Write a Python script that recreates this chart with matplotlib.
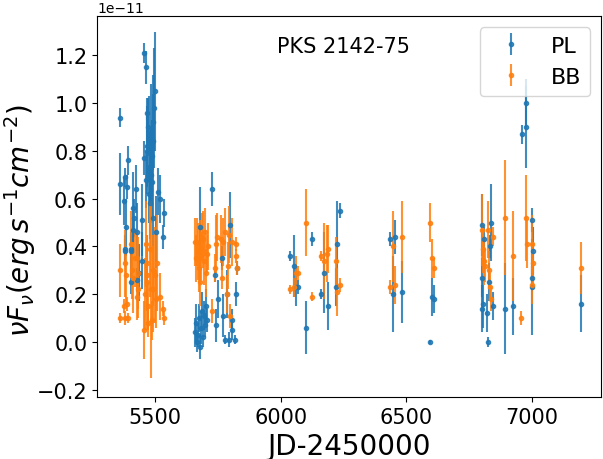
import numpy as np
import matplotlib
matplotlib.use("Agg")
import matplotlib.pyplot as plt

# ---- data (flux in units of 1e-11 erg s^-1 cm^-2) ----
pl_jd = [5361, 5456, 5464, 5500, 5468, 5361, 5381, 5389, 5393, 5425, 5456, 5468,
         5464, 5476, 5377, 5413, 5417, 5385, 5413, 5429, 5381, 5381, 5405, 5405,
         5448, 5492, 5504, 5512, 5520, 5536, 5532, 5448, 5405, 5429, 5436,
         5470, 5478, 5482, 5486, 5490, 5494, 5497, 5485, 5488, 5474, 5492, 5480,
         5726, 5679, 5798, 5766, 5738, 5825, 5786, 5821, 5750, 5770, 5806, 5806,
         5817, 5778, 5794, 5742, 5659, 5687, 5706, 5665, 5671, 5675, 5683, 5691,
         5695, 5699, 5703, 5667, 5679,
         6036, 6052, 6060, 6071, 6099, 6123, 6159, 6171, 6187, 6226, 6238, 6222,
         6437, 6456, 6448, 6484, 6595, 6603, 6611,
         6802, 6810, 6802, 6802, 6806, 6825, 6821, 6829, 6837, 6833, 6845, 6893,
         6925, 6960, 6976, 6976, 7000, 7004, 7000, 7000, 7194]
pl_flux = [0.94, 1.21, 1.15, 1.05, 0.96, 0.66, 0.69, 0.65, 0.76, 0.64, 0.77, 0.80,
           0.68, 0.62, 0.59, 0.56, 0.52, 0.48, 0.47, 0.46, 0.39, 0.38, 0.38, 0.39,
           0.51, 0.52, 0.46, 0.63, 0.60, 0.54, 0.44, 0.34, 0.25, 0.26, 0.29,
           0.82, 0.85, 0.72, 0.88, 0.78, 0.92, 0.98, 0.70, 0.67, 0.90, 0.84, 0.58,
           0.64, 0.48, 0.49, 0.35, 0.28, 0.31, 0.20, 0.20, 0.18, 0.11, 0.09, 0.05,
           0.01, 0.01, 0.01, 0.07, 0.04, 0.13, 0.09, 0.08, 0.03, 0.10, 0.06, 0.02,
           0.11, 0.07, 0.15, 0.00, -0.02,
           0.36, 0.32, 0.23, 0.23, 0.06, 0.43, 0.20, 0.29, 0.15, 0.41, 0.55, 0.23,
           0.43, 0.44, 0.20, 0.21, 0.00, 0.19, 0.18,
           0.49, 0.43, 0.27, 0.14, 0.16, 0.00, 0.12, 0.25, 0.50, 0.40, 0.15, 0.14,
           0.15, 0.87, 0.90, 1.00, 0.51, 0.38, 0.27, 0.23, 0.16]
pl_err = [0.04, 0.04, 0.07, 0.25, 0.03, 0.13, 0.04, 0.05, 0.06, 0.10, 0.07, 0.15,
          0.12, 0.12, 0.10, 0.15, 0.08, 0.12, 0.10, 0.12, 0.06, 0.05, 0.08, 0.06,
          0.15, 0.12, 0.15, 0.10, 0.10, 0.06, 0.05, 0.12, 0.05, 0.05, 0.12,
          0.20, 0.18, 0.15, 0.20, 0.15, 0.20, 0.25, 0.20, 0.15, 0.12, 0.20, 0.15,
          0.07, 0.17, 0.14, 0.05, 0.03, 0.03, 0.10, 0.05, 0.08, 0.09, 0.05, 0.04,
          0.02, 0.02, 0.03, 0.07, 0.06, 0.08, 0.05, 0.08, 0.05, 0.06, 0.07, 0.04,
          0.06, 0.05, 0.07, 0.04, 0.05,
          0.02, 0.13, 0.08, 0.03, 0.11, 0.03, 0.02, 0.17, 0.10, 0.18, 0.03, 0.08,
          0.03, 0.07, 0.16, 0.13, 0.01, 0.08, 0.06,
          0.13, 0.05, 0.08, 0.10, 0.10, 0.02, 0.08, 0.08, 0.16, 0.05, 0.06, 0.19,
          0.12, 0.04, 0.17, 0.10, 0.05, 0.10, 0.05, 0.20, 0.12]

bb_jd = [5361, 5361, 5377, 5381, 5389, 5393, 5381, 5385, 5405, 5409, 5413, 5421,
         5429, 5429, 5433, 5433, 5456, 5460, 5464, 5468, 5472, 5472, 5468, 5480,
         5484, 5492, 5492, 5500, 5504, 5508, 5520, 5532, 5536, 5488, 5468,
         5659, 5667, 5679, 5687, 5691, 5699, 5679, 5710, 5726, 5746, 5742, 5738,
         5770, 5778, 5766, 5790, 5794, 5806, 5821, 5821, 5825, 5798, 5663, 5671,
         5675, 5683, 5695, 5703, 5706, 5762, 5786,
         6036, 6052, 6060, 6071, 6099, 6123, 6159, 6171, 6183, 6187, 6222, 6226, 6238,
         6437, 6448, 6456, 6484, 6595, 6603, 6611,
         6802, 6806, 6810, 6814, 6825, 6829, 6833, 6837, 6845, 6893, 6925, 6956,
         6976, 6980, 7000, 7004, 7000, 7194]
bb_flux = [0.30, 0.10, 0.15, 0.10, 0.16, 0.10, 0.33, 0.28, 0.41, 0.30, 0.27, 0.35,
           0.35, 0.19, 0.29, 0.22, 0.05, 0.20, 0.41, 0.28, 0.15, 0.08, 0.25, 0.39,
           0.22, 0.22, 0.30, 0.28, 0.18, 0.33, 0.19, 0.14, 0.10, 0.09, 0.33,
           0.42, 0.42, 0.39, 0.44, 0.43, 0.46, 0.25, 0.40, 0.13, 0.44, 0.41, 0.31,
           0.42, 0.46, 0.27, 0.32, 0.45, 0.42, 0.41, 0.36, 0.31, 0.11, 0.35, 0.38,
           0.31, 0.36, 0.34, 0.29, 0.37, 0.43, 0.20,
           0.22, 0.23, 0.29, 0.29, 0.50, 0.19, 0.36, 0.34, 0.37, 0.39, 0.34, 0.21, 0.24,
           0.23, 0.40, 0.24, 0.44, 0.50, 0.35, 0.31,
           0.47, 0.39, 0.34, 0.32, 0.47, 0.30, 0.23, 0.18, 0.44, 0.52, 0.36, 0.10,
           0.52, 0.41, 0.41, 0.33, 0.24, 0.31]
bb_err = [0.11, 0.02, 0.03, 0.03, 0.03, 0.02, 0.14, 0.12, 0.14, 0.12, 0.15, 0.12,
          0.12, 0.10, 0.15, 0.12, 0.12, 0.15, 0.18, 0.15, 0.10, 0.06, 0.20, 0.20,
          0.37, 0.18, 0.15, 0.20, 0.12, 0.20, 0.10, 0.03, 0.03, 0.08, 0.12,
          0.10, 0.10, 0.12, 0.10, 0.12, 0.10, 0.10, 0.10, 0.05, 0.10, 0.12, 0.06,
          0.10, 0.10, 0.05, 0.10, 0.12, 0.10, 0.03, 0.03, 0.03, 0.05, 0.10, 0.12,
          0.10, 0.10, 0.10, 0.10, 0.08, 0.10, 0.08,
          0.02, 0.04, 0.07, 0.03, 0.14, 0.02, 0.02, 0.16, 0.12, 0.10, 0.10, 0.10, 0.03,
          0.03, 0.15, 0.08, 0.15, 0.08, 0.08, 0.04,
          0.15, 0.10, 0.10, 0.07, 0.12, 0.08, 0.06, 0.05, 0.04, 0.24, 0.19, 0.03,
          0.18, 0.10, 0.12, 0.09, 0.08, 0.11]

pl_flux = np.array(pl_flux) * 1e-11
pl_err = np.array(pl_err) * 1e-11
bb_flux = np.array(bb_flux) * 1e-11
bb_err = np.array(bb_err) * 1e-11

fig = plt.figure(figsize=(6.03, 4.6), dpi=100)
ax = fig.add_axes([0.161, 0.135, 0.836, 0.828])

ax.errorbar(pl_jd, pl_flux, yerr=pl_err, fmt='.', color='C0', alpha=0.85, label='PL')
ax.errorbar(bb_jd, bb_flux, yerr=bb_err, fmt='.', color='C1', alpha=0.85, label='BB')

ax.set_xlim(5270, 7275)
ax.set_ylim(-0.23e-11, 1.365e-11)
ax.set_xticks([5500, 6000, 6500, 7000])
ax.tick_params(labelsize=15)
ax.set_xlabel('JD-2450000', fontsize=20)
ax.set_ylabel(r'$\nu F_{\nu} (erg\,s^{-1} cm^{-2})$', fontsize=20)
ax.yaxis.set_label_coords(-0.118, 0.465)
ax.text(0.488, 0.92, 'PKS 2142-75', transform=ax.transAxes, ha='center',
        va='center', fontsize=15)
ax.legend(loc='upper right', fontsize=16)

fig.savefig('out.png', dpi=100)
